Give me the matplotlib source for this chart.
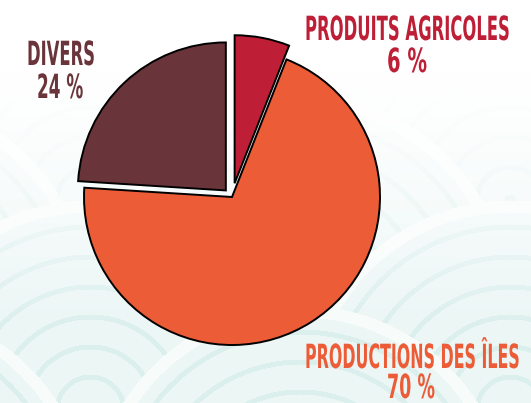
import os
import numpy as np
import matplotlib.pyplot as plt
from matplotlib import font_manager
from matplotlib.font_manager import FontProperties
from matplotlib.patheffects import AbstractPathEffect
from matplotlib.transforms import Affine2D

labels = ["PRODUITS AGRICOLES", "DIVERS", "PRODUCTIONS DES ÎLES"]
shares = [6, 24, 70]
colors = ["#BE1F36", "#6A353A", "#EB5C37"]
explode = [14, 9, 0]

W, H = 531, 403

# police étroite et grasse, la plus condensée trouvée
stretch_rank = {"ultra-condensed": 50, "extra-condensed": 62, "condensed": 75,
                "semi-condensed": 87}
best = None
for f in font_manager.fontManager.ttflist:
    wt = f.weight if isinstance(f.weight, int) else {"bold": 700}.get(f.weight, 400)
    if wt < 600 or "italic" in f.style or "oblique" in f.style:
        continue
    fn = os.path.basename(f.fname).lower()
    s = stretch_rank.get(f.stretch, f.stretch if isinstance(f.stretch, int) else 100)
    if "narrow" in fn or "condensed" in fn or "compressed" in fn:
        s = min(s, 80)
    if s >= 100:
        continue
    if best is None or s < best[0]:
        best = (s, f.fname)
fp = FontProperties(fname=best[1]) if best else FontProperties(family="DejaVu Sans", weight="bold")


class Stretch(AbstractPathEffect):
    """étire le texte (affiche haute et étroite) autour du point d'ancrage"""

    def __init__(self, cx, cy, sx, sy):
        super().__init__()
        self.cx, self.cy, self.sx, self.sy = cx, cy, sx, sy

    def draw_path(self, renderer, gc, tpath, affine, rgbFace=None):
        t = affine + (Affine2D().translate(-self.cx, -self.cy)
                      .scale(self.sx, self.sy).translate(self.cx, self.cy))
        renderer.draw_path(gc, tpath, t, rgbFace)


fig = plt.figure(figsize=(W / 100, H / 100), dpi=100)
ax = fig.add_axes([0, 0, 1, 1])

# fond : motif de vagues (seigaiha) qui s'estompe vers le haut
yy, xx = np.mgrid[0:H, 0:W].astype(float)
R = 210.0
dist = np.full((H, W), np.nan)
for row in range(-2, 12):
    cy = row * R / 2 - 10
    off = (row % 2) * R
    for k in range(-2, 4):
        cx = k * 2 * R + off + 90
        d = np.hypot(xx - cx, yy - cy)
        m = d < R
        dist[m] = d[m]
base = np.array([235, 246, 245]) / 255
line = np.array([219, 239, 237]) / 255
light = np.array([247, 252, 251]) / 255
img = np.ones((H, W, 3)) * base
ring = np.mod(R - dist, 30.0)
img[(ring > 24) & (ring < 29)] = line
img[dist > R - 12] = light
img[np.isnan(dist)] = base
fade = np.clip((yy - 70) / 260, 0, 1)[..., None] ** 1.3
img = fade * img + (1 - fade) * 1.0
ax.imshow(img, extent=[0, W, 0, H], origin="upper", zorder=0)

wedges, _ = ax.pie(shares, colors=colors, explode=explode, startangle=90 - 3.6 * shares[0],
                   radius=148, center=(232, H - 197),
                   wedgeprops=dict(edgecolor="black", linewidth=1.4))
for w in wedges:
    w.set_zorder(2)

ax.set_xlim(0, W)
ax.set_ylim(0, H)
ax.set_aspect("equal")
ax.axis("off")


def label(x, y, s, c, width, fs=12, sy=2.0):
    t = ax.text(x, y, s, color=c, fontproperties=fp, ha="center", va="baseline",
                fontsize=fs, zorder=3)
    fig.canvas.draw()
    w = t.get_window_extent().width
    cx, cy = ax.transData.transform((x, y))
    t.set_path_effects([Stretch(cx, cy, width / w, sy)])
    return t


label(407.5, H - 40, labels[0], colors[0], 205)
label(407, H - 72, f"{shares[0]} %", colors[0], 40)
label(61, H - 65, labels[1], colors[1], 68)
label(60, H - 98, f"{shares[1]} %", colors[1], 46)
label(412.5, H - 368, labels[2], colors[2], 215)
label(411, H - 398, f"{shares[2]} %", colors[2], 48)

fig.savefig("out.png", dpi=100)
